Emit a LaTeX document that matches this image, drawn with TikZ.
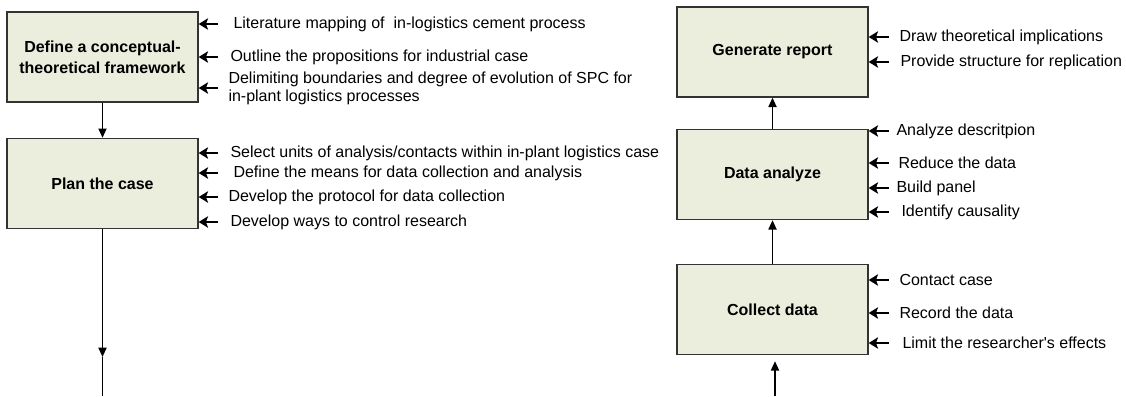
\documentclass[tikz,border=0pt]{standalone}
\usepackage{fontspec}
\setmainfont{Liberation Sans}
\usetikzlibrary{arrows.meta}

\definecolor{stagefill}{RGB}{235,238,221}

\tikzset{every picture/.style={line width=0.75pt}}
\tikzset{
  stage/.style={draw=black!80, fill=stagefill, line width=1pt, minimum width=143.25pt, minimum height=67.5pt, align=center, font=\fontsize{12}{15.5}\selectfont\bfseries},
  task/.style={anchor=west, inner sep=0pt, align=left, font=\fontsize{12}{13.5}\selectfont},
  flow/.style={line width=1.3pt, -{Triangle[length=7pt,width=6pt]}},
  feed/.style={line width=1.8pt, -{Stealth[length=7pt,width=8.5pt,inset=1.5pt]}},
}

\begin{document}
\begin{tikzpicture}[x=0.75pt,y=0.75pt,yscale=-1,xscale=1]
        \useasboundingbox (0,0) rectangle (1126,396);
        \node [stage] (frame) at (102.5,57) {Define a conceptual-\\theoretical framework};
        \node [stage] (plan) at (102.5,183.5) {Plan the case};
        \node [stage] (report) at (772.5,52) {Generate report};
        \node [stage] (analyze) at (772.5,174.5) {Data analyze};
        \node [stage] (collect) at (772.5,309.5) {Collect data};
        \coordinate (planmid) at (102.5,357);
        \coordinate (planend) at (102.5,396);
        \coordinate (colin) at (775,396);

        \node [task] (f1) at (233,24) {Literature mapping of~~in-logistics cement process};
        \node [task] (f2) at (230,57) {Outline the propositions for industrial case};
        \node [task] (f3) at (228,88) {Delimiting boundaries and degree of evolution of SPC for\\in-plant logistics processes};
        \node [task] (p1) at (230,153) {Select units of analysis/contacts within in-plant logistics case};
        \node [task] (p2) at (233,173) {Define the means for data collection and analysis};
        \node [task] (p3) at (228,197) {Develop the protocol for data collection};
        \node [task] (p4) at (230,222) {Develop ways to control research};
        \node [task] (r1) at (899,37) {Draw theoretical implications};
        \node [task] (r2) at (900,62) {Provide structure for replication};
        \node [task] (a1) at (896,131) {Analyze descritpion};
        \node [task] (a2) at (898,163) {Reduce the data};
        \node [task] (a3) at (896,188) {Build panel};
        \node [task] (a4) at (901,212) {Identify causality};
        \node [task] (c1) at (899,280) {Contact case};
        \node [task] (c2) at (899,313) {Record the data};
        \node [task] (c3) at (902,343) {Limit the researcher\textquotesingle s effects};

        \draw [flow] (frame) -- (plan);
        \draw [flow] (plan) -- (planmid);
        \draw [line width=1.3pt] (planmid) -- (planend);
        \draw [flow] (analyze) -- (report);
        \draw [flow] (collect) -- (analyze);
        \draw [flow, shorten >=4.5pt] (colin) -- (colin |- collect.south);

        \draw [feed] (frame.east |- f1) ++(14.5pt,0) -- (frame.east |- f1);
        \draw [feed] (frame.east |- f2) ++(14.5pt,0) -- (frame.east |- f2);
        \draw [feed] (frame.east |- f3) ++(14.5pt,0) -- (frame.east |- f3);
        \draw [feed] (plan.east |- p1) ++(14.5pt,0) -- (plan.east |- p1);
        \draw [feed] (plan.east |- p2) ++(14.5pt,0) -- (plan.east |- p2);
        \draw [feed] (plan.east |- p3) ++(14.5pt,0) -- (plan.east |- p3);
        \draw [feed] (plan.east |- p4) ++(14.5pt,0) -- (plan.east |- p4);
        \draw [feed] (report.east |- r1) ++(15pt,0) -- (report.east |- r1);
        \draw [feed] (report.east |- r2) ++(15pt,0) -- (report.east |- r2);
        \draw [feed] (analyze.east |- a1) ++(15pt,0) -- (analyze.east |- a1);
        \draw [feed] (analyze.east |- a2) ++(15pt,0) -- (analyze.east |- a2);
        \draw [feed] (analyze.east |- a3) ++(15pt,0) -- (analyze.east |- a3);
        \draw [feed] (analyze.east |- a4) ++(15pt,0) -- (analyze.east |- a4);
        \draw [feed] (collect.east |- c1) ++(15pt,0) -- (collect.east |- c1);
        \draw [feed] (collect.east |- c2) ++(15pt,0) -- (collect.east |- c2);
        \draw [feed] (collect.east |- c3) ++(15pt,0) -- (collect.east |- c3);
\end{tikzpicture}
\end{document}
